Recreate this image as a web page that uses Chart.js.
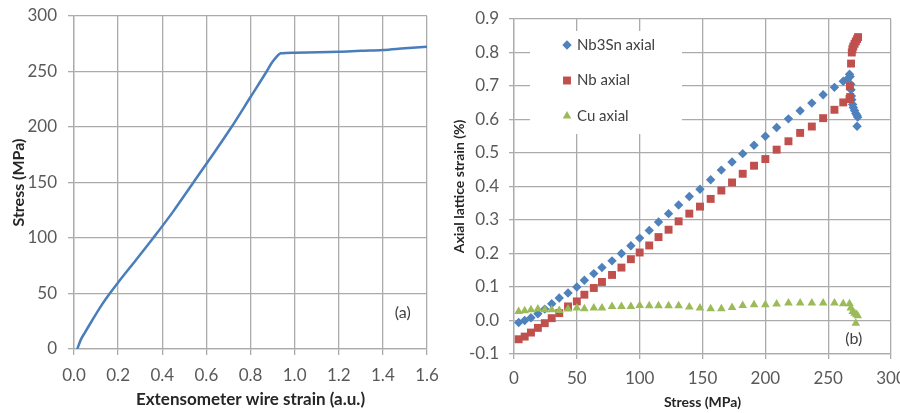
<!DOCTYPE html>
<html>
<head>
<meta charset="utf-8">
<script src="https://cdn.jsdelivr.net/npm/chart.js@4.4.0/dist/chart.umd.min.js"></script>
<style>
  body { margin: 0; background: #fff; }
  #wrap { position: relative; width: 900px; height: 413px; }
  #stressCurve { position: absolute; left: 0; top: 0; }
  #latticeStrain { position: absolute; left: 450px; top: 0; }
</style>
</head>
<body>
<div id="wrap">
  <canvas id="stressCurve" width="440" height="413"></canvas>
  <canvas id="latticeStrain" width="450" height="413"></canvas>
</div>
<script>
'use strict';

// (a) stress vs extensometer strain
var wireStrain = [0.015, 0.03, 0.05, 0.08, 0.12, 0.162, 0.2, 0.28, 0.359, 0.45, 0.541, 0.62, 0.714, 0.8, 0.873, 0.895, 0.915, 0.937, 1.0, 1.2, 1.3, 1.4, 1.5, 1.6];
var wireStress = [0, 8, 15, 25, 38, 50, 60, 80, 100, 124, 150, 172.5, 200, 227, 250, 257.4, 262.5, 266.4, 267, 267.8, 268.7, 269.4, 271, 272.4];

// (b) axial lattice strain vs stress
var nb3snStress = [3.7, 8.5, 13.5, 19, 24.5, 30, 36, 43, 50, 56, 63.5, 70, 78, 85.5, 93, 100, 107.6, 115, 123, 131, 139.5, 148, 156.5, 165, 173.5, 182, 191, 200, 209, 218.4, 227.7, 237, 246,
  255, 262, 265.5, 267, 267.5, 268, 268.2, 268.5, 268.8, 269.5, 270, 271, 272, 273, 273.5, 273];
var nb3snStrain = [-0.006, 0.0, 0.008, 0.02, 0.034, 0.05, 0.067, 0.082, 0.10, 0.12, 0.14, 0.158, 0.178, 0.20, 0.223, 0.246, 0.269, 0.294, 0.319, 0.345, 0.37, 0.392, 0.42, 0.449, 0.473, 0.498, 0.523, 0.55, 0.576, 0.602, 0.626, 0.649, 0.674,
  0.696, 0.714, 0.722, 0.735, 0.728, 0.705, 0.689, 0.67, 0.659, 0.645, 0.636, 0.627, 0.618, 0.612, 0.607, 0.58];

var nbStress = [3.7, 8.5, 13.5, 19, 24.5, 30, 36, 43, 50, 56, 63.5, 70, 78, 85.5, 93, 100, 107.6, 115, 123, 131, 139.5, 148, 156.5, 165, 173.5, 182, 191, 200, 209, 218.4, 227.7, 237, 246,
  255, 262, 267, 267.5, 267.3, 268.2, 268.8, 269.3, 270, 271, 272, 273, 273.8];
var nbStrain = [-0.056, -0.048, -0.036, -0.022, -0.008, 0.007, 0.022, 0.042, 0.057, 0.077, 0.097, 0.115, 0.136, 0.158, 0.183, 0.203, 0.224, 0.249, 0.271, 0.296, 0.319, 0.34, 0.363, 0.388, 0.412, 0.438, 0.462, 0.482, 0.51, 0.535, 0.56, 0.579, 0.604,
  0.629, 0.651, 0.661, 0.667, 0.699, 0.767, 0.800, 0.810, 0.818, 0.826, 0.833, 0.840, 0.846];

var cuStress = [3.7, 8.5, 13.5, 19, 24.5, 30, 36, 43, 50, 56, 63.5, 70, 78, 85.5, 93, 100, 107.6, 115, 123, 131, 139.5, 148, 156.5, 165, 173.5, 182, 191, 200, 209, 218.4, 227.7, 237, 246,
  255, 262, 267, 268, 269.5, 271, 272.5, 273.5, 272];
var cuStrain = [0.027, 0.029, 0.032, 0.034, 0.032, 0.032, 0.030, 0.034, 0.037, 0.035, 0.037, 0.037, 0.042, 0.042, 0.042, 0.045, 0.044, 0.044, 0.044, 0.044, 0.040, 0.037, 0.035, 0.035, 0.039, 0.045, 0.047, 0.047, 0.049, 0.052, 0.052, 0.052, 0.052,
  0.052, 0.05, 0.05, 0.037, 0.027, 0.022, 0.018, 0.014, -0.008];

var seriesNames = ['Nb3Sn axial', 'Nb axial', 'Cu axial'];

var gridColor = '#ababab';
var tickColor = '#595959';
var tickFont = { family: 'Lato', size: 17 };

function toPoints(xs, ys) {
	var pts = [];
	for (var i = 0; i < xs.length; i++) {
		pts.push({ x: xs[i], y: ys[i] });
	}
	return pts;
}

function oneDecimal(v) {
	return Number(v).toFixed(1);
}

// keep the plot box fixed: no extra room for the end labels
function fixHeight(h) {
	return function(s) {
		s.height = h;
		s.paddingLeft = 0;
		s.paddingRight = 0;
	};
}
function fixWidth(w) {
	return function(s) {
		s.width = w;
		s.paddingTop = 0;
		s.paddingBottom = 0;
	};
}

// "(a)" / "(b)" tags placed in data space
function panelTag(text, xv, yv) {
	return {
		id: 'panelTag',
		afterDraw: function(chart) {
			var ctx = chart.ctx;
			ctx.save();
			ctx.font = '16px Lato';
			ctx.fillStyle = '#404040';
			ctx.textAlign = 'center';
			ctx.textBaseline = 'middle';
			ctx.fillText(text, chart.scales.x.getPixelForValue(xv), chart.scales.y.getPixelForValue(yv));
			ctx.restore();
		}
	};
}

// legend sitting inside the plot on a white box
var innerLegend = {
	id: 'innerLegend',
	afterDatasetsDraw: function(chart) {
		var ctx = chart.ctx;
		var area = chart.chartArea;
		var left = area.left + 16;
		var top = area.top + 12;
		ctx.save();
		ctx.fillStyle = '#fff';
		ctx.fillRect(left, top, 152, 103);
		ctx.font = '15px Lato';
		ctx.textBaseline = 'middle';
		ctx.textAlign = 'left';
		chart.data.datasets.forEach(function(ds, i) {
			var y = top + 14 + i * 35.5;
			ctx.fillStyle = ds.backgroundColor;
			Chart.helpers.drawPoint(ctx, { pointStyle: ds.pointStyle, radius: ds.pointRadius, borderWidth: 0, rotation: 0 }, left + 37, y);
			ctx.fillStyle = '#404040';
			ctx.fillText(ds.label, left + 47, y);
		});
		ctx.restore();
	}
};

function axisGrid(tl) {
	return { color: gridColor, lineWidth: 1.3, tickLength: tl, drawTicks: true };
}

new Chart(document.getElementById('stressCurve'), {
	type: 'line',
	data: {
		datasets: [{
			data: toPoints(wireStrain, wireStress),
			borderColor: '#4a7ebb',
			borderWidth: 2.5,
			pointRadius: 0,
			cubicInterpolationMode: 'monotone',
			fill: false
		}]
	},
	options: {
		responsive: false,
		animation: false,
		layout: { padding: { left: 0, right: 13, top: 16, bottom: 0 } },
		plugins: { legend: { display: false }, tooltip: { enabled: false } },
		scales: {
			x: {
				type: 'linear', min: 0, max: 1.6,
				ticks: { stepSize: 0.2, callback: oneDecimal, color: tickColor, font: tickFont, padding: 10, maxRotation: 0 },
				grid: axisGrid(6),
				border: { color: gridColor, width: 1.3 },
				title: { display: true, text: 'Extensometer wire strain (a.u.)', color: '#262626', font: { family: 'Lato', size: 17, weight: 'bold' }, padding: { top: 0, bottom: 3 } },
				afterFit: fixHeight(64)
			},
			y: {
				type: 'linear', min: 0, max: 300,
				ticks: { stepSize: 50, color: tickColor, font: tickFont, padding: 11 },
				grid: axisGrid(6),
				border: { color: gridColor, width: 1.3 },
				title: { display: true, text: 'Stress (MPa)', color: '#262626', font: { family: 'Lato', size: 16, weight: 'bold' }, padding: { top: 9, bottom: 0 } },
				afterFit: fixWidth(74)
			}
		}
	},
	plugins: [panelTag('(a)', 1.49, 33)]
});

new Chart(document.getElementById('latticeStrain'), {
	type: 'scatter',
	data: {
		datasets: [{
			label: seriesNames[0],
			data: toPoints(nb3snStress, nb3snStrain),
			pointStyle: 'rectRot',
			pointRadius: 4.7,
			backgroundColor: '#4f81bd',
			borderWidth: 0,
			order: 3
		}, {
			label: seriesNames[1],
			data: toPoints(nbStress, nbStrain),
			pointStyle: 'rect',
			pointRadius: 5.6,
			backgroundColor: '#c0504d',
			borderWidth: 0,
			order: 2
		}, {
			label: seriesNames[2],
			data: toPoints(cuStress, cuStrain),
			pointStyle: 'triangle',
			pointRadius: 5,
			backgroundColor: '#9bbb59',
			borderWidth: 0,
			order: 1
		}]
	},
	options: {
		responsive: false,
		animation: false,
		layout: { padding: { left: 0, right: 9, top: 19, bottom: 0 } },
		plugins: { legend: { display: false }, tooltip: { enabled: false } },
		scales: {
			x: {
				type: 'linear', min: 0, max: 300,
				ticks: { stepSize: 50, color: tickColor, font: tickFont, padding: 9, maxRotation: 0 },
				grid: axisGrid(5),
				border: { color: gridColor, width: 1.3 },
				title: { display: true, text: 'Stress (MPa)', color: '#262626', font: { family: 'Lato', size: 14, weight: 'bold' }, padding: { top: 0, bottom: 2 } },
				afterFit: fixHeight(59)
			},
			y: {
				type: 'linear', min: -0.1, max: 0.9,
				ticks: { stepSize: 0.1, callback: oneDecimal, color: tickColor, font: tickFont, padding: 10 },
				grid: axisGrid(5),
				border: { color: gridColor, width: 1.3 },
				title: { display: true, text: 'Axial lattice strain (%)', color: '#262626', font: { family: 'Lato', size: 14, weight: 'bold' }, padding: { top: 1, bottom: 0 } },
				afterFit: fixWidth(64)
			}
		}
	},
	plugins: [innerLegend, panelTag('(b)', 270.4, -0.056)]
});
</script>
</body>
</html>
